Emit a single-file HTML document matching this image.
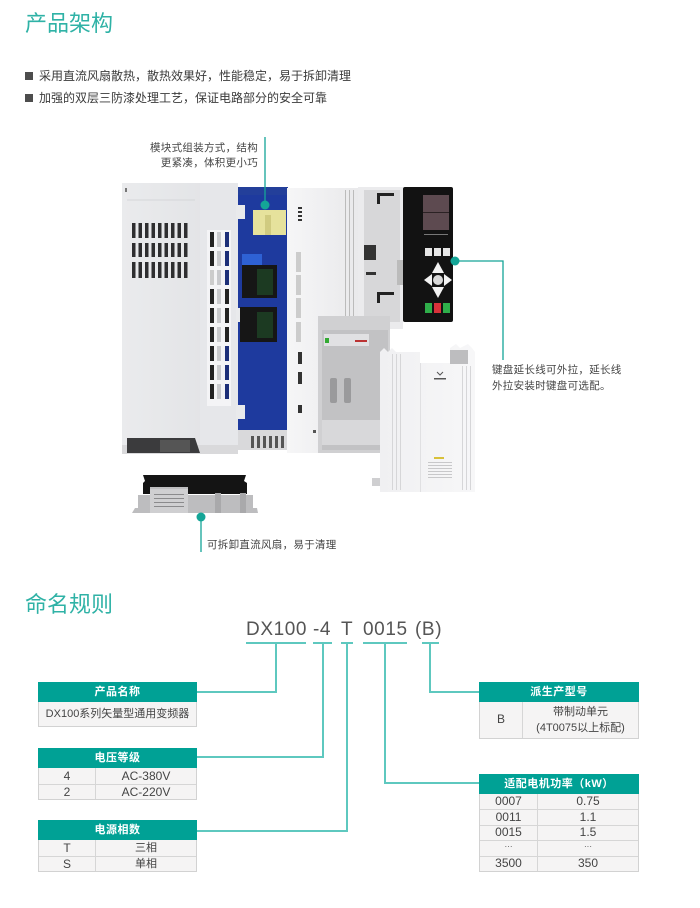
<!DOCTYPE html>
<html><head><meta charset="utf-8">
<style>
*{margin:0;padding:0;box-sizing:border-box}
html,body{width:700px;height:908px;background:#fff;overflow:hidden}
body{position:relative;font-family:"Liberation Sans","Noto Sans CJK SC",sans-serif;color:#444}
.a{position:absolute;white-space:nowrap}
.title{font-size:22px;line-height:22px;color:#2fb2a6;letter-spacing:0px}
.bul{font-size:12px;line-height:14px;color:#3a3a3a}
.sq{position:absolute;width:8px;height:8px;background:#4d4d4d}
.cap{font-size:10.5px;line-height:15px;color:#444;letter-spacing:0.3px}
.pn{font-size:19px;line-height:20px;color:#555;letter-spacing:0.6px}
.box{position:absolute;background:#f5f4f4;border:1px solid #d2d2d2}
.hd{position:absolute;left:-1px;right:-1px;top:-1px;background:#00a195;color:#fff;font-weight:bold;font-size:11px;text-align:center;letter-spacing:0.5px}
.c{position:absolute;text-align:center;font-size:12px;color:#444}
.k{font-size:11px}
.hl{position:absolute;height:1px;background:#d6d6d6}
.vl{position:absolute;width:1px;background:#d6d6d6}
</style></head><body>

<div class="a title" style="left:25px;top:13px">产品架构</div>
<div class="sq" style="left:25px;top:72px"></div>
<div class="a bul" style="left:39px;top:69px">采用直流风扇散热，散热效果好，性能稳定，易于拆卸清理</div>
<div class="sq" style="left:25px;top:94px"></div>
<div class="a bul" style="left:39px;top:91px">加强的双层三防漆处理工艺，保证电路部分的安全可靠</div>

<!-- product graphic -->
<svg class="a" style="left:0;top:0" width="700" height="580" viewBox="0 0 700 580">
<defs>
<linearGradient id="gL" x1="0" x2="1" y1="0" y2="0"><stop offset="0" stop-color="#eaebed"/><stop offset="1" stop-color="#e0e1e4"/></linearGradient>
<linearGradient id="gM" x1="0" x2="1"><stop offset="0" stop-color="#f6f6f7"/><stop offset="1" stop-color="#e9e9eb"/></linearGradient>
<linearGradient id="gC" x1="0" x2="1"><stop offset="0" stop-color="#f0f0f2"/><stop offset="1" stop-color="#f7f7f8"/></linearGradient>
</defs>
<!-- left housing -->
<rect x="122" y="183" width="116" height="262" fill="url(#gL)"/>
<rect x="200" y="183" width="38" height="262" fill="#e6e7ea"/>
<line x1="127" y1="200" x2="195" y2="200" stroke="#d5d6d9" stroke-width="1"/>
<rect x="125" y="188" width="2" height="4" fill="#777"/>
<rect x="122" y="445" width="116" height="9" fill="#d9d9db"/>
<polygon points="127,438 195,438 200,453 127,453" fill="#3b3b3d"/>
<rect x="160" y="440" width="30" height="12" fill="#555"/>
<g fill="#2e2e30">
<rect x="132" y="223" width="3.5" height="15"/><rect x="138.5" y="223" width="3.5" height="15"/><rect x="145" y="223" width="3.5" height="15"/><rect x="151.5" y="223" width="3.5" height="15"/><rect x="158" y="223" width="3.5" height="15"/><rect x="164.5" y="223" width="3.5" height="15"/><rect x="171" y="223" width="3.5" height="15"/><rect x="177.5" y="223" width="3.5" height="15"/><rect x="184" y="223" width="3.5" height="15"/>
<rect x="132" y="243" width="3.5" height="14"/><rect x="138.5" y="243" width="3.5" height="14"/><rect x="145" y="243" width="3.5" height="14"/><rect x="151.5" y="243" width="3.5" height="14"/><rect x="158" y="243" width="3.5" height="14"/><rect x="164.5" y="243" width="3.5" height="14"/><rect x="171" y="243" width="3.5" height="14"/><rect x="177.5" y="243" width="3.5" height="14"/><rect x="184" y="243" width="3.5" height="14"/>
<rect x="132" y="262" width="3.5" height="16"/><rect x="138.5" y="262" width="3.5" height="16"/><rect x="145" y="262" width="3.5" height="16"/><rect x="151.5" y="262" width="3.5" height="16"/><rect x="158" y="262" width="3.5" height="16"/><rect x="164.5" y="262" width="3.5" height="16"/><rect x="171" y="262" width="3.5" height="16"/><rect x="177.5" y="262" width="3.5" height="16"/><rect x="184" y="262" width="3.5" height="16"/>
</g>
<!-- side vents -->
<rect x="207" y="230" width="24" height="176" fill="#f4f4f6"/>
<g>
<rect x="210" y="232" width="4" height="15" fill="#222"/><rect x="217" y="232" width="4" height="15" fill="#c9cacd"/><rect x="225" y="232" width="4" height="15" fill="#1d2f78"/>
<rect x="210" y="251" width="4" height="15" fill="#222"/><rect x="217" y="251" width="4" height="15" fill="#c9cacd"/><rect x="225" y="251" width="4" height="15" fill="#1d2f78"/>
<rect x="210" y="270" width="4" height="15" fill="#ccc"/><rect x="217" y="270" width="4" height="15" fill="#c9cacd"/><rect x="225" y="270" width="4" height="15" fill="#1d2f78"/>
<rect x="210" y="289" width="4" height="15" fill="#222"/><rect x="217" y="289" width="4" height="15" fill="#c9cacd"/><rect x="225" y="289" width="4" height="15" fill="#222"/>
<rect x="210" y="308" width="4" height="15" fill="#222"/><rect x="217" y="308" width="4" height="15" fill="#c9cacd"/><rect x="225" y="308" width="4" height="15" fill="#222"/>
<rect x="210" y="327" width="4" height="15" fill="#222"/><rect x="217" y="327" width="4" height="15" fill="#c9cacd"/><rect x="225" y="327" width="4" height="15" fill="#222"/>
<rect x="210" y="346" width="4" height="15" fill="#222"/><rect x="217" y="346" width="4" height="15" fill="#c9cacd"/><rect x="225" y="346" width="4" height="15" fill="#1d2f78"/>
<rect x="210" y="365" width="4" height="15" fill="#222"/><rect x="217" y="365" width="4" height="15" fill="#c9cacd"/><rect x="225" y="365" width="4" height="15" fill="#1d2f78"/>
<rect x="210" y="384" width="4" height="15" fill="#222"/><rect x="217" y="384" width="4" height="15" fill="#c9cacd"/><rect x="225" y="384" width="4" height="15" fill="#1d2f78"/>
</g>
<!-- PCB -->
<rect x="238" y="187" width="50" height="245" fill="#1e3a9e"/>
<rect x="238" y="187" width="50" height="8" fill="#233f9a"/>
<rect x="236" y="205" width="9" height="14" fill="#e9eaec"/>
<rect x="236" y="308" width="5" height="14" fill="#e9eaec"/>
<rect x="236" y="405" width="9" height="14" fill="#e9eaec"/>
<rect x="253" y="210" width="33" height="25" fill="#e6e29c"/>
<rect x="265" y="215" width="6" height="20" fill="#d0cb80"/>
<rect x="242" y="254" width="20" height="11" fill="#2e61d4"/>
<rect x="242" y="265" width="35" height="33" fill="#161616"/>
<rect x="257" y="269" width="16" height="26" fill="#1c3a22"/>
<rect x="240" y="307" width="37" height="35" fill="#161616"/>
<rect x="257" y="312" width="16" height="26" fill="#1c3a22"/>
<rect x="238" y="430" width="50" height="20" fill="#d9d9db"/>
<g fill="#555"><rect x="251" y="436" width="3" height="12"/><rect x="257" y="436" width="3" height="12"/><rect x="263" y="436" width="3" height="12"/><rect x="269" y="436" width="3" height="12"/><rect x="275" y="436" width="3" height="12"/><rect x="281" y="436" width="3" height="12"/></g>
<!-- middle housing -->
<rect x="287" y="188" width="72" height="265" fill="url(#gM)"/>
<g fill="#bbb"><rect x="345" y="190" width="1" height="160"/><rect x="349" y="190" width="1" height="160"/><rect x="353" y="190" width="1" height="160"/></g>
<g fill="#333"><rect x="298" y="207" width="4" height="2"/><rect x="298" y="211" width="4" height="2"/><rect x="298" y="215" width="4" height="2"/><rect x="298" y="219" width="4" height="2"/>
<rect x="298" y="352" width="4" height="12"/><rect x="298" y="372" width="4" height="12"/><rect x="298" y="405" width="4" height="8"/></g>
<g fill="#ccc"><rect x="296" y="252" width="5" height="20"/><rect x="296" y="275" width="5" height="20"/><rect x="296" y="298" width="5" height="20"/><rect x="296" y="322" width="5" height="20"/></g>
<rect x="313" y="430" width="3" height="3" fill="#555"/>
<!-- upper right part -->
<rect x="358" y="187" width="45" height="142" fill="#ebebed"/>
<rect x="364" y="190" width="36" height="132" fill="#d7d7d9"/>
<path d="M377 193 h17 v3 h-14 v8 h-3z" fill="#222"/>
<path d="M377 292 h17 v3 h-14 v8 h-3z" fill="#222"/>
<rect x="364" y="245" width="12" height="15" fill="#333"/>
<rect x="366" y="272" width="10" height="3" fill="#333"/>
<rect x="397" y="260" width="6" height="25" fill="#bbb"/>
<!-- lower gray section -->
<rect x="318" y="316" width="72" height="137" fill="#d0d0d2"/>
<rect x="322" y="330" width="66" height="120" fill="#c2c2c4"/>
<rect x="324" y="334" width="45" height="12" fill="#e1e1e3"/>
<rect x="325" y="338" width="4" height="5" fill="#3a3"/>
<rect x="355" y="340" width="12" height="2" fill="#b33"/>
<rect x="330" y="378" width="7" height="25" rx="2" fill="#9a9a9c"/>
<rect x="344" y="378" width="7" height="25" rx="2" fill="#9a9a9c"/>
<rect x="322" y="420" width="58" height="25" fill="#d8d8da"/>
<!-- keypad -->
<rect x="403" y="187" width="50" height="135" rx="2" fill="#121212"/>
<rect x="423" y="195" width="26" height="35" fill="#5d4a50"/>
<rect x="423" y="212" width="26" height="1" fill="#2b2224"/>
<rect x="424" y="234" width="24" height="1" fill="#777"/>
<rect x="425" y="248" width="7" height="8" fill="#e6e6e6"/><rect x="434" y="248" width="7" height="8" fill="#e6e6e6"/><rect x="443" y="248" width="7" height="8" fill="#e6e6e6"/>
<polygon points="438,262 444,273 432,273" fill="#f2f2f2"/>
<polygon points="438,298 444,287 432,287" fill="#f2f2f2"/>
<polygon points="424,280 432,274 432,286" fill="#f2f2f2"/>
<polygon points="452,280 444,274 444,286" fill="#f2f2f2"/>
<circle cx="438" cy="280" r="5" fill="#d8d8d8"/>
<rect x="425" y="303" width="7" height="10" fill="#2fae4a"/><rect x="434" y="303" width="7" height="10" fill="#d8323a"/><rect x="443" y="303" width="7" height="10" fill="#2fae4a"/>
<!-- front cover -->
<rect x="372" y="478" width="10" height="8" fill="#cfcfd1"/>
<polygon points="380,352 384,348 388,352 392,348 396,352 420,352 420,363 450,363 450,348 456,344 460,348 468,344 472,348 475,352 475,492 380,492" fill="url(#gC)"/>
<rect x="450" y="350" width="18" height="14" fill="#bdbdbf"/>
<g fill="#d6d6d8"><rect x="392" y="354" width="1" height="136"/><rect x="396" y="354" width="1" height="136"/><rect x="400" y="354" width="1" height="136"/><rect x="462" y="366" width="1" height="124"/><rect x="466" y="366" width="1" height="124"/><rect x="470" y="366" width="1" height="124"/></g>
<rect x="420" y="363" width="1" height="129" fill="#e0e0e2"/>
<path d="M437 372 l3 3 l3 -3" stroke="#555" stroke-width="1" fill="none"/>
<rect x="434" y="378" width="12" height="1.5" fill="#555"/>
<rect x="434" y="457" width="10" height="2" fill="#d8c13a"/>
<g fill="#c8c8ca"><rect x="428" y="462" width="24" height="1"/><rect x="428" y="465" width="24" height="1"/><rect x="428" y="468" width="24" height="1"/><rect x="428" y="471" width="24" height="1"/><rect x="428" y="474" width="24" height="1"/><rect x="428" y="477" width="24" height="1"/></g>
<!-- fan -->
<polygon points="143,475 246,475 244,481 247,483 247,494 143,494 143,483 145,481" fill="#141414"/>
<polygon points="132,513 135,508 138,508 138,495 150,495 150,487 188,487 188,495 253,495 253,508 257,508 258,513" fill="#bdbdbf"/>
<rect x="150" y="489" width="38" height="24" fill="#cfcfd1"/>
<g fill="#8a8a8c"><rect x="154" y="494" width="30" height="1"/><rect x="154" y="498" width="30" height="1"/><rect x="154" y="502" width="30" height="1"/><rect x="154" y="506" width="30" height="1"/></g>
<rect x="215" y="493" width="6" height="20" fill="#a9a9ab"/>
<rect x="240" y="493" width="6" height="20" fill="#a9a9ab"/>
<!-- callouts -->
<g stroke="#14a597" stroke-width="1.3" fill="none">
<line x1="265" y1="137" x2="265" y2="205"/>
<polyline points="454,261 503,261 503,360"/>
<line x1="201" y1="517" x2="201" y2="552"/>
</g>
<g fill="#14a597"><circle cx="265" cy="205" r="4.5"/><circle cx="455" cy="261" r="4.5"/><circle cx="201" cy="517" r="4.5"/></g>
</svg>

<div class="a cap" style="right:442px;top:141px;text-align:right">模块式组装方式，结构<br>更紧凑，体积更小巧</div>
<div class="a cap" style="left:492px;top:362px;line-height:16px">键盘延长线可外拉，延长线<br>外拉安装时键盘可选配。</div>
<div class="a cap" style="left:207px;top:538px">可拆卸直流风扇，易于清理</div>

<!-- naming rule -->
<div class="a title" style="left:25px;top:594px">命名规则</div>
<div class="a pn" style="left:246px;top:620px">DX100</div>
<div class="a pn" style="left:313px;top:620px">-4</div>
<div class="a pn" style="left:341px;top:620px">T</div>
<div class="a pn" style="left:363px;top:620px">0015</div>
<div class="a pn" style="left:415px;top:620px">(B)</div>

<svg class="a" style="left:0;top:0" width="700" height="908">
<g stroke="#5ec8bf" stroke-width="2" fill="none">
<line x1="246" y1="643" x2="306" y2="643"/>
<line x1="313" y1="643" x2="332" y2="643"/>
<line x1="341" y1="643" x2="353" y2="643"/>
<line x1="363" y1="643" x2="407" y2="643"/>
<line x1="422" y1="643" x2="439" y2="643"/>
<polyline points="197,692 276,692 276,643"/>
<polyline points="197,757 323,757 323,643"/>
<polyline points="197,831 347,831 347,643"/>
<polyline points="479,692 430,692 430,643"/>
<polyline points="479,783 385,783 385,643"/>
</g>
</svg>

<!-- box1 -->
<div class="box" style="left:38px;top:682px;width:159px;height:45px">
  <div class="hd" style="height:20px;line-height:20px">产品名称</div>
  <div class="c k" style="left:0;right:0;top:23px;line-height:16px">DX100系列矢量型通用变频器</div>
</div>
<!-- box2 -->
<div class="box" style="left:38px;top:748px;width:159px;height:52px">
  <div class="hd" style="height:20px;line-height:20px">电压等级</div>
  <div class="vl" style="left:56px;top:19px;bottom:0"></div>
  <div class="hl" style="left:0;right:0;top:35px"></div>
  <div class="c" style="left:0;width:56px;top:20px;line-height:15px">4</div>
  <div class="c" style="left:57px;right:0;top:20px;line-height:15px">AC-380V</div>
  <div class="c" style="left:0;width:56px;top:36px;line-height:15px">2</div>
  <div class="c" style="left:57px;right:0;top:36px;line-height:15px">AC-220V</div>
</div>
<!-- box3 -->
<div class="box" style="left:38px;top:820px;width:159px;height:52px">
  <div class="hd" style="height:20px;line-height:20px">电源相数</div>
  <div class="vl" style="left:56px;top:19px;bottom:0"></div>
  <div class="hl" style="left:0;right:0;top:35px"></div>
  <div class="c" style="left:0;width:56px;top:20px;line-height:15px">T</div>
  <div class="c k" style="left:57px;right:0;top:20px;line-height:15px">三相</div>
  <div class="c" style="left:0;width:56px;top:36px;line-height:15px">S</div>
  <div class="c k" style="left:57px;right:0;top:36px;line-height:15px">单相</div>
</div>
<!-- box4 -->
<div class="box" style="left:479px;top:682px;width:160px;height:57px">
  <div class="hd" style="height:20px;line-height:20px">派生产型号</div>
  <div class="vl" style="left:42px;top:19px;bottom:0"></div>
  <div class="c" style="left:0;width:42px;top:29px;line-height:15px">B</div>
  <div class="c k" style="left:43px;right:0;top:21px;line-height:16px">带制动单元<br>(4T0075以上标配)</div>
</div>
<!-- box5 -->
<div class="box" style="left:479px;top:774px;width:160px;height:98px">
  <div class="hd" style="height:20px;line-height:20px">适配电机功率（kW）</div>
  <div class="vl" style="left:57px;top:19px;bottom:0"></div>
  <div class="hl" style="left:0;right:0;top:34px"></div>
  <div class="hl" style="left:0;right:0;top:50px"></div>
  <div class="hl" style="left:0;right:0;top:65px"></div>
  <div class="hl" style="left:0;right:0;top:81px"></div>
  <div class="c" style="left:0;width:57px;top:19px;line-height:15px">0007</div>
  <div class="c" style="left:58px;right:0;top:19px;line-height:15px">0.75</div>
  <div class="c" style="left:0;width:57px;top:35px;line-height:15px">0011</div>
  <div class="c" style="left:58px;right:0;top:35px;line-height:15px">1.1</div>
  <div class="c" style="left:0;width:57px;top:50px;line-height:15px">0015</div>
  <div class="c" style="left:58px;right:0;top:50px;line-height:15px">1.5</div>
  <div class="c" style="left:0;width:57px;top:64px;line-height:15px;font-size:8px">···</div>
  <div class="c" style="left:58px;right:0;top:64px;line-height:15px;font-size:8px">···</div>
  <div class="c" style="left:0;width:57px;top:81px;line-height:15px">3500</div>
  <div class="c" style="left:58px;right:0;top:81px;line-height:15px">350</div>
</div>

</body></html>
